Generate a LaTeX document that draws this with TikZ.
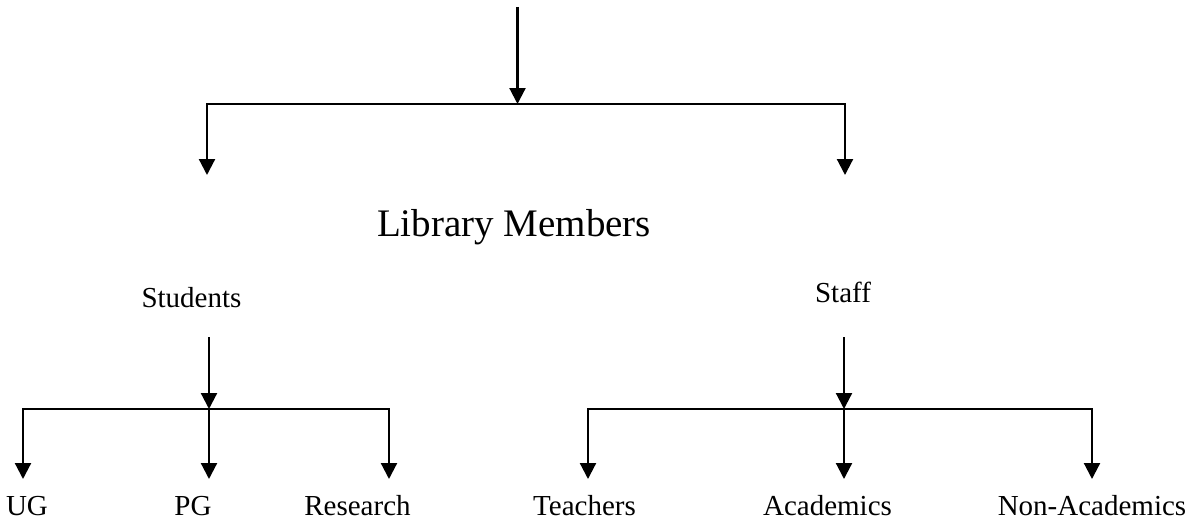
\documentclass[tikz,border=0pt]{standalone}
\usepackage{fontspec}
\setmainfont{Liberation Serif}
\usetikzlibrary{arrows.meta}
\begin{document}
\begin{tikzpicture}[x=1pt,y=-1pt,
  conn/.style={line width=2.2pt,-{Triangle[length=16pt,width=16pt]}},
  bar/.style={line width=2.2pt,line cap=rect},
  lbl/.style={inner sep=0pt,anchor=base,font=\fontsize{29}{34}\selectfont},
  title/.style={inner sep=0pt,anchor=base,font=\fontsize{39}{46}\selectfont}]
\useasboundingbox (0,0) rectangle (1193,519);
% labels
\node[title] (lm) at (514,236) {Library Members};
\node[lbl] (stu) at (191.5,307) {Students};
\node[lbl] (stf) at (843,302) {Staff};
\node[lbl] (ug) at (27,515) {UG};
\node[lbl] (pg) at (193,515) {PG};
\node[lbl] (res) at (357.5,515) {Research};
\node[lbl] (tea) at (584.5,515) {Teachers};
\node[lbl] (aca) at (827.5,515) {Academics};
\node[lbl] (non) at (1092,515) {Non-Academics};
% top level
\coordinate (top) at (517.5,7);
\coordinate (jtop) at (517.5,104);
\coordinate (jl) at (207,104);
\coordinate (jr) at (845,104);
\coordinate (el) at (207,175);
\coordinate (er) at (845,175);
\draw[conn] (top) -- (jtop);
\draw[bar] (jl) -- (jr);
\draw[conn] (jl) -- (el);
\draw[conn] (jr) -- (er);
% students branch
\coordinate (s0) at (209,337);
\coordinate (sj) at (209,409);
\coordinate (sjl) at (23,409);
\coordinate (sjr) at (389,409);
\coordinate (ugt) at (23,479);
\coordinate (pgt) at (209,479);
\coordinate (rst) at (389,479);
\draw[conn] (s0) -- (sj);
\draw[bar] (sjl) -- (sjr);
\draw[conn] (sjl) -- (ugt);
\draw[conn] (sj) -- (pgt);
\draw[conn] (sjr) -- (rst);
% staff branch
\coordinate (t0) at (844,337);
\coordinate (tj) at (844,409);
\coordinate (tjl) at (588,409);
\coordinate (tjr) at (1092,409);
\coordinate (tet) at (588,479);
\coordinate (act) at (844,479);
\coordinate (nat) at (1092,479);
\draw[conn] (t0) -- (tj);
\draw[bar] (tjl) -- (tjr);
\draw[conn] (tjl) -- (tet);
\draw[conn] (tj) -- (act);
\draw[conn] (tjr) -- (nat);
\end{tikzpicture}
\end{document}
